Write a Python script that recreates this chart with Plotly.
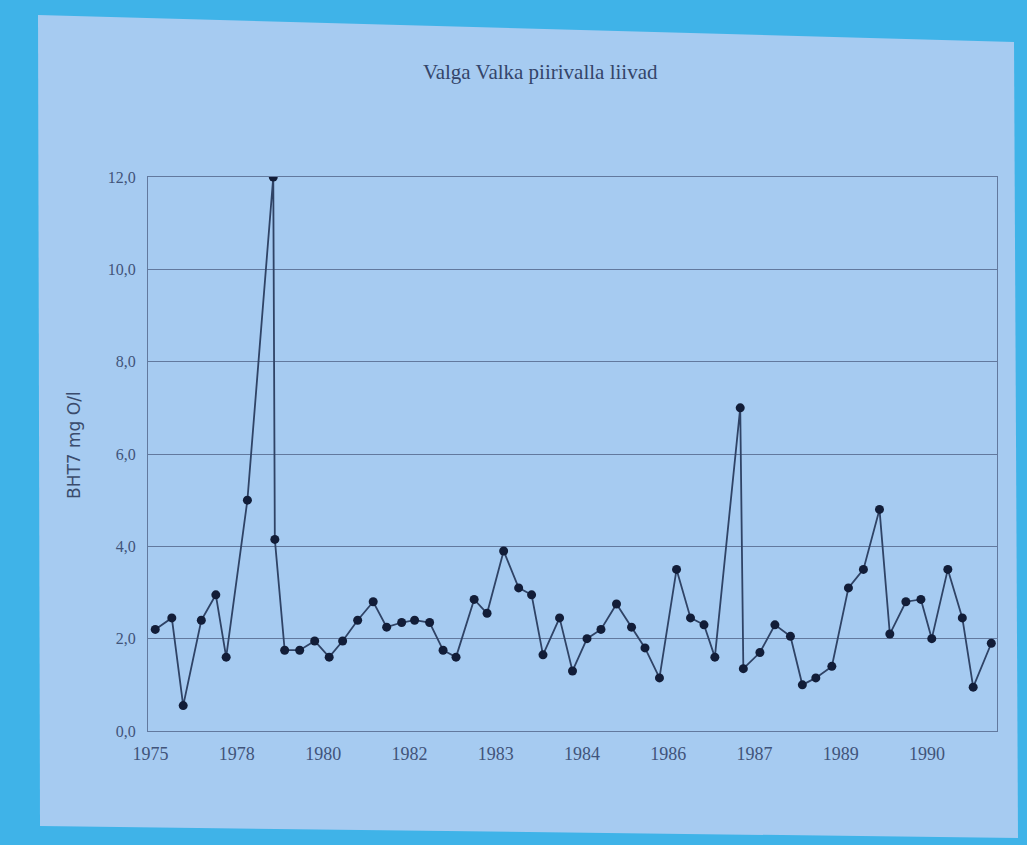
import plotly.graph_objects as go

# ---- data ----
sample_time = [1975.09, 1975.41, 1975.63, 1975.98, 1976.26, 1976.46, 1976.87, 1977.37, 1977.40, 1977.59,
               1977.88, 1978.17, 1978.45, 1978.71, 1979.00, 1979.30, 1979.56, 1979.85, 1980.10, 1980.39,
               1980.65, 1980.90, 1981.25, 1981.50, 1981.82, 1982.11, 1982.36, 1982.58, 1982.90, 1983.15,
               1983.43, 1983.70, 1984.00, 1984.29, 1984.55, 1984.83, 1985.16, 1985.43, 1985.69, 1985.90,
               1986.39, 1986.45, 1986.77, 1987.06, 1987.36, 1987.59, 1987.85, 1988.16, 1988.48, 1988.77,
               1989.08, 1989.28, 1989.59, 1989.88, 1990.09, 1990.40, 1990.68, 1990.89, 1991.24]
bht_values = [2.2, 2.45, 0.55, 2.4, 2.95, 1.6, 5.0, 12.0, 4.15, 1.75,
              1.75, 1.95, 1.6, 1.95, 2.4, 2.8, 2.25, 2.35, 2.4, 2.35,
              1.75, 1.6, 2.85, 2.55, 3.9, 3.1, 2.95, 1.65, 2.45, 1.3,
              2.0, 2.2, 2.75, 2.25, 1.8, 1.15, 3.5, 2.45, 2.3, 1.6,
              7.0, 1.35, 1.7, 2.3, 2.05, 1.0, 1.15, 1.4, 3.1, 3.5,
              4.8, 2.1, 2.8, 2.85, 2.0, 3.5, 2.45, 0.95, 1.9]
x_tick_labels = ["1975", "1978", "1980", "1982", "1983", "1984", "1986", "1987", "1989", "1990"]
y_ticks = [0, 2, 4, 6, 8, 10, 12]
title_text = "Valga Valka piirivalla liivad"
y_title = "BHT7 mg O/l"

# ---- layout geometry ----
W, H = 1027, 845
ML, MR, MT, MB = 148, 30, 177, 114
PW, PH = W - ML - MR, H - MT - MB

def px(x):
    return (x - ML) / PW

def py(y):
    return (H - MB - y) / PH

x_start, x_step = 1975.0, 15 / 9
tickvals = [x_start + i * x_step for i in range(len(x_tick_labels))]

BORDER = "#3fb3e8"
SLIDE = "#a6cbf1"
TEXT = "#41547a"
LINE = "#2f4366"
MARK = "#121d38"
GRID = "#62799e"
FONT = "Liberation Serif"

fig = go.Figure()
fig.add_trace(go.Scatter(
    x=sample_time, y=bht_values, mode="lines+markers",
    line=dict(color=LINE, width=1.8),
    marker=dict(color=MARK, size=9, symbol="circle"),
    showlegend=False,
))

slide_path = (f"M {px(38)},{py(15)} L {px(1014)},{py(42)} "
              f"L {px(1018)},{py(838)} L {px(40)},{py(826)} Z")

fig.update_layout(
    width=W, height=H,
    margin=dict(l=ML, r=MR, t=MT, b=MB),
    paper_bgcolor=BORDER,
    plot_bgcolor="rgba(0,0,0,0)",
    separators=",.",
    font=dict(family=FONT, color=TEXT, size=16),
    title=dict(text=title_text, x=0.526, xanchor="center", y=1 - 72 / H, yanchor="middle",
               font=dict(family=FONT, size=21, color="#34456a")),
    shapes=[dict(type="path", path=slide_path, xref="paper", yref="paper",
                 fillcolor=SLIDE, line=dict(width=0), layer="below")],
    annotations=[dict(text=y_title, textangle=-90, x=px(62), y=py(445), xref="paper", yref="paper",
                      showarrow=False, font=dict(family="DejaVu Sans", size=17, color="#3a4b6c"))],
    xaxis=dict(range=[1974.95, 1991.35], tickmode="array", tickvals=tickvals, ticktext=x_tick_labels,
               showgrid=False, zeroline=False, showline=True, linecolor=GRID, linewidth=1.3,
               mirror=True, ticks="", ticklabelstandoff=6, tickfont=dict(size=18, color=TEXT)),
    yaxis=dict(range=[0, 12], tickmode="array", tickvals=y_ticks, tickformat=".1f",
               showgrid=True, gridcolor=GRID, gridwidth=1.3, zeroline=False,
               showline=True, linecolor=GRID, linewidth=1.3, mirror=True, ticks="",
               ticklabelstandoff=8, tickfont=dict(size=16, color=TEXT)),
)

fig.write_html(
    "out.html",
    config={"displayModeBar": False},
    post_script="document.body.style.margin='0';document.body.style.background='#3fb3e8';"
                "document.body.style.overflow='hidden';",
)
